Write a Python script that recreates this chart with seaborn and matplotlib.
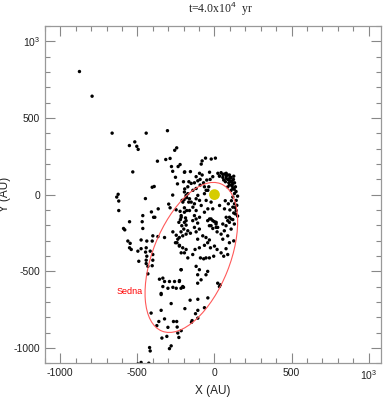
import numpy as np
import pandas as pd
import matplotlib
matplotlib.use("Agg")
import matplotlib.pyplot as plt
from matplotlib.patches import Ellipse
from matplotlib.ticker import MultipleLocator, FixedLocator
import seaborn as sns

# positions of the scattered objects (AU)
obj_x = [-876, -794, -664, -443, -305, -517, -552, -504, -495, -245, -258, -530, -370, -316, -288,
         -279, -236, -223, -271, -253, -193, -240, -404, -391,
         -625, -634, -621, -621, -448, -465, -409, -365, -387, -271, -297, -288, -249, -223, -197,
         -184, -193, -210, -180, -167, -195, -180, -216, -188,
         -86, -80, -58, -21, 6, -195, -156, -97, -80, -32, -11, 32, 54, 76, 85, -151, -130, -108, -93,
         76, 97, 108, 119, 97, 86, 119, 108, 130, 119, 141, 130, 119, 141, 136, 108,
         -195, -173, -184, -162, -205, -151, -130, -119, -108, -97, -86, -140, -119, -162, -195, -216,
         -184, -130, -97, -65, -43, -32, -11, 11, -22, 11, 54, 76, 97, 65, 33, -11, -54, -22, -65, -54,
         22, 43, 65, 33, 54, 76, 97, 108, 123, 87, 71, 93, 130, 115, 136, -71, -50, -28, -93, -65, -37,
         -43, -119, -140, -173, -166, -201, -119,
         -551, -469, -395, -590, -582, -465, -231, -270, -248, -238, -253, -227, -216, -400, -367, -324,
         -562, -547, -476, -439, -404, -551, -540, -497, -476, -443, -447, -417, -439, -400, -491, -443,
         -443, -432, -400, -404, -432, -216, -357, -335, -324, -292, -259, -227, -335, -302, -270, -248,
         -201, -346,
         -221, -195, -212, -184, -199, -217, -173, -156, -184, -206, -228, -141, -119, -109, -130, -98,
         -119, -44, -22, 0, 10, -33, -11, 21, 17, 43, 64, 75, 86, 97, 119, 129, 108, 86, 54, 125, 97, 75,
         43, 60, 86,
         -243, -228, -206, -184, -195, -173, -141, -126, -98, -65, -44, -33, -55, -76, -109, -91, -70,
         -55, -33, -5, 17, 0, -26,
         -217, -119, -98, -109, -55, -44, -87, -109, -228, -206, -217, 21, 38, 32,
         -346, -158, -108, -43, -281, -411, -346, -192, -108, -123, -108, -65, -324, -361, -266, -245,
         -145, -149, -374, -302, -242, -216, -238, -231, -341, -309, -421, -417, -281, -292, -476, -426,
         -497,
         100, 115, 125, 60, 140, 150, 145, 150, 125, 100, 90, 110, 70, 128, 112, 135]
obj_y = [803, 642, 401, 401, 417, 344, 320, 315, 295, 305, 289, 148, 218, 229, 236,
         183, 183, 196, 152, 113, 148, 70, 48, 53,
         2, -16, -42, -104, -26, -137, -113, -93, -148, -3, -62, -86, -99, -109, -33,
         -5, 37, -38, -20, -49, -86, -104, -137, -152,
         199, 220, 238, 232, 238, 146, 150, 139, 128, 146, 117, 121, 132, 139, 128, 73, 77, 90, 99,
         106, 94, 83, 73, 62, 50, 40, 28, 7, -16, -38, -60, -82, -104, -126, -159,
         17, 6, -16, -27, -49, -49, -60, -27, -5, -38, -71, -82, -104, -104, -115, -148,
         -170, -137, -148, -115, -93, -159, -170, -181, -203, -214, -192, -148, -181, -93, -71, -93, -38,
         -49, 6, 28,
         139, 143, 134, 121, 112, 121, 128, 112, 99, 99, 84, 77, 77, 55, 51, 77, 95, 99, 62, 51, 51,
         28, 40, 28, 51, 84, 84, 117,
         -177, -177, -148, -221, -230, -221, -181, -243, -265, -291, -314, -331, -380, -269, -274, -280,
         -303, -318, -296, -303, -303, -347, -358, -369, -353, -347, -375, -369, -402, -391, -435, -428,
         -450, -468, -428, -464, -517, -490, -552, -545, -567, -567, -567, -561, -600, -611, -605, -611,
         -605, -645,
         -163, -181, -203, -199, -225, -243, -236, -252, -258, -269, -280, -170, -159, -186, -214, -225,
         -243, -170, -159, -177, -192, -203, -221, -214, -243, -258, -236, -203, -170, -148, -163, -192,
         -225, -269, -291, -302, -314, -353, -380, -402, -391,
         -314, -336, -347, -358, -380, -413, -391, -358, -347, -331, -314, -296, -280, -269, -291, -413,
         -419, -413, -413, -402, -358, -336, -347,
         -490, -468, -490, -523, -523, -501, -556, -578, -567, -600, -611, -578, -589, -600,
         -652, -689, -683, -674, -711, -773, -755, -744, -755, -777, -806, -738, -811, -828, -828, -828,
         -822, -833, -855, -866, -864, -888, -903, -932, -936, -925, -998, -1020, -987, -1005, -1095,
         -1100, -1105,
         112, 90, 120, 95, 20, -10, -70, -140, -120, -100, -60, -40, -40, 35, 62, -85]

# Sedna orbit (centre, semi-axes in AU, tilt in degrees)
sedna_center = (-150, -410)
sedna_a = 517
sedna_b = 250
sedna_tilt = 68.4
sun_x, sun_y = [0], [0]

x_ticks = [-1000, -500, 0, 500, 1000]
x_ticklabels = ["-1000", "-500", "0", "500", "10$^3$"]
y_ticks = [-1000, -500, 0, 500, 1000]
y_ticklabels = ["-1000", "-500", "0", "500", "10$^3$"]

df = pd.DataFrame({"x": obj_x, "y": obj_y})

sns.set_style("ticks")
plt.rcParams["font.family"] = ["Liberation Sans", "DejaVu Sans"]
plt.rcParams["mathtext.fontset"] = "custom"
plt.rcParams["mathtext.rm"] = "Liberation Sans"
plt.rcParams["mathtext.it"] = "Liberation Sans"

fig = plt.figure(figsize=(3.84, 4.0), dpi=100)
ax = fig.add_axes([0.117, 0.092, 0.875, 0.843])

sns.scatterplot(data=df, x="x", y="y", ax=ax, s=6, color="black", edgecolor="none", linewidth=0)
ax.scatter(sun_x, sun_y, s=60, color="#d6cc00", zorder=3, edgecolor="none")

orbit = Ellipse(sedna_center, 2 * sedna_a, 2 * sedna_b, angle=sedna_tilt,
                fill=False, edgecolor="#ff5a5a", linewidth=0.8)
ax.add_patch(orbit)
ax.text(-548, -632, "Sedna", color="red", fontsize=6.5, ha="center", va="center")

ax.set_xlim(-1100, 1080)
ax.set_ylim(-1100, 1100)
ax.xaxis.set_major_locator(FixedLocator(x_ticks))
ax.yaxis.set_major_locator(FixedLocator(y_ticks))
ax.set_xticklabels(x_ticklabels)
ax.set_yticklabels(y_ticklabels)
ax.xaxis.set_minor_locator(MultipleLocator(100))
ax.yaxis.set_minor_locator(MultipleLocator(100))
ax.tick_params(which="both", direction="in", top=True, right=True, color="#888888",
               labelsize=7.5, labelcolor="#222222", width=0.8)
ax.tick_params(which="major", length=7)
ax.tick_params(which="minor", length=3.5)
for sp in ax.spines.values():
    sp.set_color("#999999")
    sp.set_linewidth(0.9)

ax.set_xlabel("X (AU)", fontsize=8.5, color="#222222", labelpad=2)
ax.set_ylabel("Y (AU)", fontsize=8.5, color="#222222")
ax.yaxis.set_label_coords(-0.1, 0.5)
fig.text(0.573, 0.978, "t=4.0x10$^4$  yr", ha="center", va="center", fontsize=8.5,
         family=["Liberation Serif", "DejaVu Serif"])

fig.savefig("out.png", dpi=100)
